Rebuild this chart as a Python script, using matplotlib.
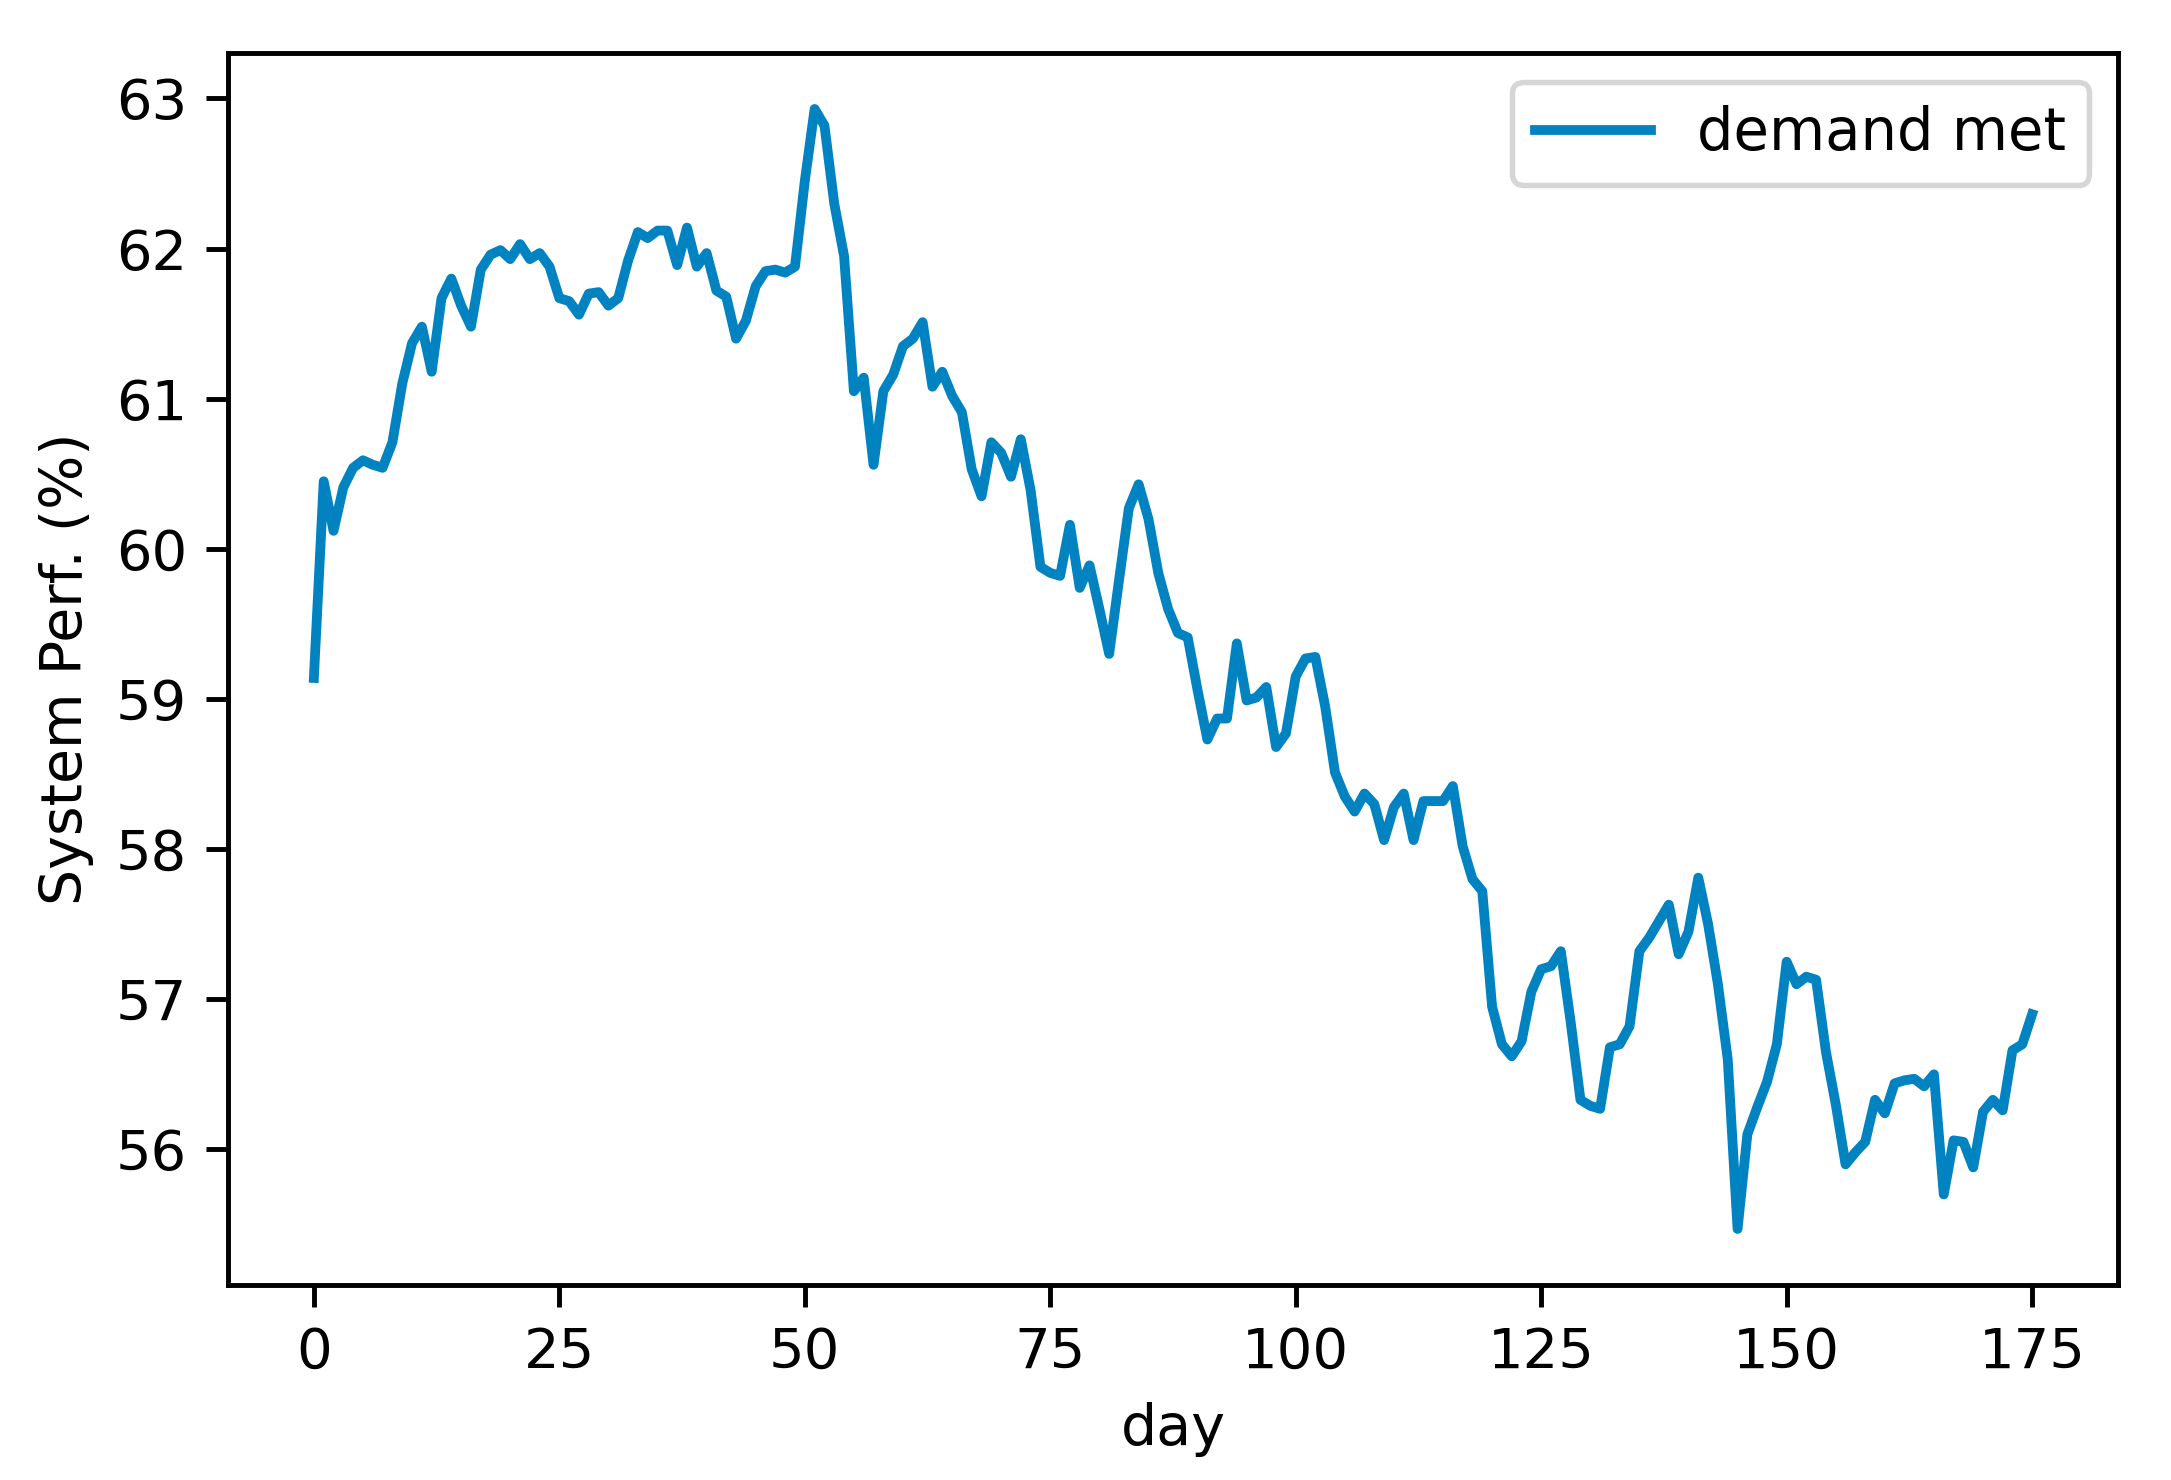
# Plot daily system performance (share of demand met)

import matplotlib
matplotlib.use('Agg')
import matplotlib.pyplot as plt
import numpy as np

# demand met (%) for each day
perf = [
    59.14, 60.45, 60.12, 60.41, 60.54, 60.59, 60.56, 60.54, 60.71, 61.10,  # 0-9
    61.37, 61.48, 61.18, 61.67, 61.80, 61.62, 61.48, 61.86, 61.96, 61.99,  # 10-19
    61.93, 62.03, 61.93, 61.97, 61.88, 61.67, 61.65, 61.56, 61.70, 61.71,  # 20-29
    61.62, 61.67, 61.92, 62.11, 62.07, 62.12, 62.12, 61.89, 62.14, 61.88,  # 30-39
    61.97, 61.72, 61.68, 61.40, 61.52, 61.75, 61.85, 61.86, 61.84, 61.88,  # 40-49
    62.45, 62.93, 62.82, 62.30, 61.95, 61.05, 61.14, 60.56, 61.05, 61.16,  # 50-59
    61.35, 61.40, 61.51, 61.08, 61.18, 61.02, 60.91, 60.53, 60.35, 60.71,  # 60-69
    60.64, 60.48, 60.73, 60.39, 59.88, 59.84, 59.82, 60.16, 59.74, 59.89,  # 70-79
    59.60, 59.30, 59.79, 60.27, 60.43, 60.20, 59.84, 59.60, 59.44, 59.41,  # 80-89
    59.06, 58.73, 58.87, 58.87, 59.37, 58.99, 59.01, 59.08, 58.68, 58.77,  # 90-99
    59.15, 59.27, 59.28, 58.95, 58.51, 58.35, 58.25, 58.37, 58.30, 58.06,  # 100-109
    58.28, 58.37, 58.06, 58.32, 58.32, 58.32, 58.42, 58.02, 57.80, 57.72,  # 110-119
    56.95, 56.70, 56.62, 56.72, 57.05, 57.20, 57.22, 57.32, 56.85, 56.33,  # 120-129
    56.29, 56.27, 56.68, 56.70, 56.82, 57.32, 57.41, 57.52, 57.63, 57.30,  # 130-139
    57.45, 57.81, 57.50, 57.10, 56.60, 55.47, 56.10, 56.28, 56.45, 56.70,  # 140-149
    57.25, 57.10, 57.15, 57.13, 56.65, 56.30, 55.90, 55.98, 56.05, 56.33,  # 150-159
    56.24, 56.44, 56.46, 56.47, 56.42, 56.50, 55.70, 56.06, 56.05, 55.88,  # 160-169
    56.25, 56.33, 56.26, 56.66, 56.70, 56.90,                              # 170-175
]
days = np.arange(len(perf))  # day index

x_ticks = [0, 25, 50, 75, 100, 125, 150, 175]
y_ticks = [56, 57, 58, 59, 60, 61, 62, 63]

dpi = 392  # the original is a default-style figure at high resolution
fig = plt.figure(figsize=(2171 / dpi, 1480 / dpi), dpi=dpi)
ax = fig.add_axes([0.105, 0.1318, 0.8706, 0.8324])

ax.plot(days, perf, color='#0083c0', linewidth=1.8, label='demand met')
ax.legend(loc='upper right', fontsize=10.6)

ax.set_xlabel('day', fontsize=10.5)
ax.set_ylabel('System Perf. (%)', fontsize=10.5)

ax.set_xticks(x_ticks)
ax.set_yticks(y_ticks)
ax.tick_params(labelsize=10.3, length=4, width=0.9)
for spine in ax.spines.values():
    spine.set_linewidth(0.9)

fig.savefig('out.png', dpi=dpi)
